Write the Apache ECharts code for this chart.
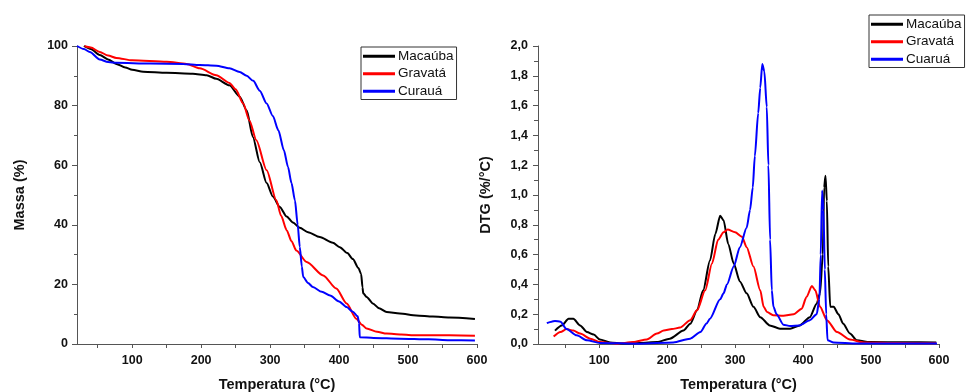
<!DOCTYPE html>
<html>
<head>
<meta charset="utf-8">
<script src="https://cdn.jsdelivr.net/npm/echarts@6/dist/echarts.min.js"></script>
<style>
  html, body { margin: 0; padding: 0; background: #fff; }
  #chart { width: 966px; height: 392px; }
</style>
</head>
<body>
<div id="chart"></div>
<script>
// TGA curves, [temperature °C, mass %]
const tgaMacauba = [[30,100],[40,99],[53,97],[65,95.5],[77,94],[90,92.8],[100,92],[116,91.4],[150,91],[188,90.7],[208,90.2],[222,89],[241,86.8],[256,83],[266,78.4],[275,69.5],[285,61],[295,54],[304,49.5],[314,46],[324,42.8],[333,40.8],[343,39],[355,37.5],[372,35.9],[391,34],[401,32.5],[412,30.5],[420,28.5],[428,25.5],[432,23.5],[434,19],[435,17],[440,15.8],[449,13.6],[458,12],[469,10.7],[488,10.2],[512,9.6],[536,9.2],[560,8.9],[597,8.4]];
const tgaGravata = [[31,100],[40,99.5],[53,98],[65,96.8],[77,96],[100,95.2],[150,94.7],[179,94],[198,92.5],[222,90.2],[241,87.6],[250,85.5],[261,80.7],[270,75],[280,68.4],[295,58.3],[309,48.2],[316,43],[324,38.2],[331,34.5],[338,31.4],[353,27.5],[377,23],[396,18.6],[411,13.6],[425,8.5],[433,6.5],[440,5.2],[455,4.1],[469,3.5],[490,3.2],[512,2.9],[560,2.9],[597,2.8]];
const tgaCuraua = [[20,100],[30,99],[38.6,98],[53,95.5],[65,94.6],[77,94.4],[126,94.1],[174,94],[198,93.6],[222,93.4],[241,92.5],[256,91.3],[266,90],[275.5,88.3],[285,85],[295,80.7],[304,76.5],[312,71.7],[320,65],[326,59.4],[331,54],[336,48.2],[340,40],[343,32.6],[346,26],[348,22.5],[355,20.5],[362,19.1],[375,17.5],[387,16.3],[400,14.3],[411,12.4],[420,10.8],[427,9.3],[429,7],[430,2.3],[450,2],[488,1.8],[530,1.6],[560,1.3],[597,1.2]];

// DTG curves, [temperature °C, %/°C]
const dtgMacauba = [[35,0.09],[45,0.125],[55,0.17],[62,0.17],[72,0.125],[82,0.08],[92,0.063],[101,0.03],[116,0.01],[136,0.003],[160,0.007],[185,0.013],[204,0.036],[224,0.09],[234,0.136],[244,0.226],[253,0.36],[263,0.56],[271,0.74],[278,0.86],[283,0.83],[290,0.67],[298,0.54],[307,0.42],[317,0.34],[327,0.25],[337,0.18],[351,0.125],[366,0.103],[381,0.103],[395,0.125],[410,0.18],[420,0.27],[425,0.34],[429,0.6],[431,1.05],[433,1.13],[435,0.96],[437,0.52],[440,0.25],[445,0.25],[452,0.2],[459,0.136],[469,0.07],[479,0.025],[498,0.013],[550,0.012],[596,0.01]];
const dtgGravata = [[33,0.05],[43,0.08],[52,0.1],[62,0.09],[72,0.07],[87,0.036],[101,0.013],[126,0.002],[150,0.013],[170,0.03],[185,0.07],[195,0.09],[207,0.1],[219,0.11],[234,0.16],[244,0.226],[256,0.36],[266,0.54],[275,0.7],[283,0.75],[289,0.768],[300,0.75],[310,0.72],[317,0.65],[327,0.52],[337,0.36],[342,0.25],[347,0.215],[356,0.193],[371,0.19],[386,0.2],[398,0.237],[405,0.315],[413,0.39],[418,0.36],[425,0.25],[435,0.16],[450,0.08],[469,0.03],[489,0.01],[540,0.006],[596,0.005]];
const dtgCuarua = [[23,0.14],[30,0.15],[35,0.155],[43,0.15],[52,0.1],[67,0.058],[82,0.025],[101,0.007],[160,0.002],[209,0.01],[234,0.036],[249,0.08],[258,0.137],[263,0.17],[278,0.3],[283,0.34],[288,0.4],[298,0.52],[307,0.65],[317,0.78],[322,0.9],[326,1.05],[329,1.26],[334,1.55],[337,1.72],[340,1.88],[343,1.83],[346.6,1.59],[349,1.2],[351.5,0.7],[354,0.36],[356.4,0.25],[361,0.2],[371,0.13],[381,0.12],[395,0.125],[410,0.16],[420,0.2],[424,0.3],[426,0.6],[428,1.03],[430,0.9],[432,0.5],[434,0.2],[436,0.025],[445,0.01],[479,0.003],[597,0.003]];

const tempLabels = [100, 200, 300, 400, 500, 600];
const tempTicks = [50, 100, 150, 200, 250, 300, 350, 400, 450, 500, 550, 600];

const FONT = "'Liberation Sans', Arial, sans-serif";
const AXIS_COLOR = "#555";

const chart = echarts.init(document.getElementById("chart"), null, { renderer: "canvas" });

function xAxisFor(gridIndex, min) {
  return {
    gridIndex: gridIndex,
    type: "value",
    min: min,
    max: 600,
    name: "Temperatura (°C)",
    nameLocation: "middle",
    nameGap: 33,
    nameTextStyle: { fontFamily: FONT, fontWeight: "bold", fontSize: 14.5, color: "#111" },
    axisLine: { lineStyle: { color: AXIS_COLOR, width: 1 } },
    axisTick: { show: true, length: 4, customValues: tempTicks, lineStyle: { color: AXIS_COLOR } },
    axisLabel: { customValues: tempLabels, fontFamily: FONT, fontWeight: "bold", fontSize: 12.5, color: "#111", margin: 10 },
    splitLine: { show: false },
  };
}

function lineSeries(name, data, color, axisIndex) {
  return {
    name: name,
    type: "line",
    xAxisIndex: axisIndex,
    yAxisIndex: axisIndex,
    data: data,
    showSymbol: false,
    smooth: 0.25,
    smoothMonotone: "x",
    lineStyle: { color: color, width: 2 },
    itemStyle: { color: color },
    animation: false,
  };
}

const legendBase = {
  orient: "vertical",
  icon: "rect",
  itemWidth: 32,
  itemHeight: 3,
  itemGap: 3,
  padding: [2, 3, 1, 2],
  borderColor: "#333",
  borderWidth: 1,
  backgroundColor: "#fff",
  selectedMode: false,
  textStyle: { fontFamily: FONT, fontSize: 13.5, color: "#111", lineHeight: 14.5, padding: [0, 0, 0, -2] },
};

chart.setOption({
  animation: false,
  grid: [
    { left: 77, top: 46, width: 400, height: 298, outerBoundsMode: "none", containLabel: false },
    { left: 538, top: 46, width: 401, height: 298, outerBoundsMode: "none", containLabel: false },
  ],
  legend: [
    Object.assign({}, legendBase, { left: 361, top: 47, data: ["Macaúba", "Gravatá", "Curauá"] }),
    Object.assign({}, legendBase, { left: 869, top: 15, data: ["Macaúba", "Gravatá", "Cuaruá"] }),
  ],
  xAxis: [xAxisFor(0, 20), xAxisFor(1, 10)],
  yAxis: [
    {
      gridIndex: 0,
      type: "value",
      min: 0,
      max: 100,
      interval: 20,
      name: "Massa (%)",
      nameLocation: "middle",
      nameGap: 50,
      nameTextStyle: { fontFamily: FONT, fontWeight: "bold", fontSize: 14.5, color: "#111" },
      axisLine: { show: true, lineStyle: { color: AXIS_COLOR } },
      axisTick: { show: true, length: 5, lineStyle: { color: AXIS_COLOR } },
      minorTick: { show: true, splitNumber: 2, length: 3, lineStyle: { color: AXIS_COLOR } },
      axisLabel: { fontFamily: FONT, fontWeight: "bold", fontSize: 12.5, color: "#111", margin: 9 },
      splitLine: { show: false },
    },
    {
      gridIndex: 1,
      type: "value",
      min: 0,
      max: 2,
      interval: 0.2,
      name: "DTG (%/°C)",
      nameLocation: "middle",
      nameGap: 45,
      nameTextStyle: { fontFamily: FONT, fontWeight: "bold", fontSize: 14.5, color: "#111" },
      axisLine: { show: true, lineStyle: { color: AXIS_COLOR } },
      axisTick: { show: true, length: 5, lineStyle: { color: AXIS_COLOR } },
      minorTick: { show: true, splitNumber: 2, length: 4, lineStyle: { color: AXIS_COLOR } },
      axisLabel: {
        fontFamily: FONT, fontWeight: "bold", fontSize: 12.5, color: "#111", margin: 10,
        formatter: (v) => v.toFixed(1).replace(".", ","),
      },
      splitLine: { show: false },
    },
  ],
  series: [
    lineSeries("Macaúba", tgaMacauba, "#000000", 0),
    lineSeries("Gravatá", tgaGravata, "#ff0000", 0),
    lineSeries("Curauá", tgaCuraua, "#0000ff", 0),
    lineSeries("Macaúba", dtgMacauba, "#000000", 1),
    lineSeries("Gravatá", dtgGravata, "#ff0000", 1),
    lineSeries("Cuaruá", dtgCuarua, "#0000ff", 1),
  ],
});
</script>
</body>
</html>
